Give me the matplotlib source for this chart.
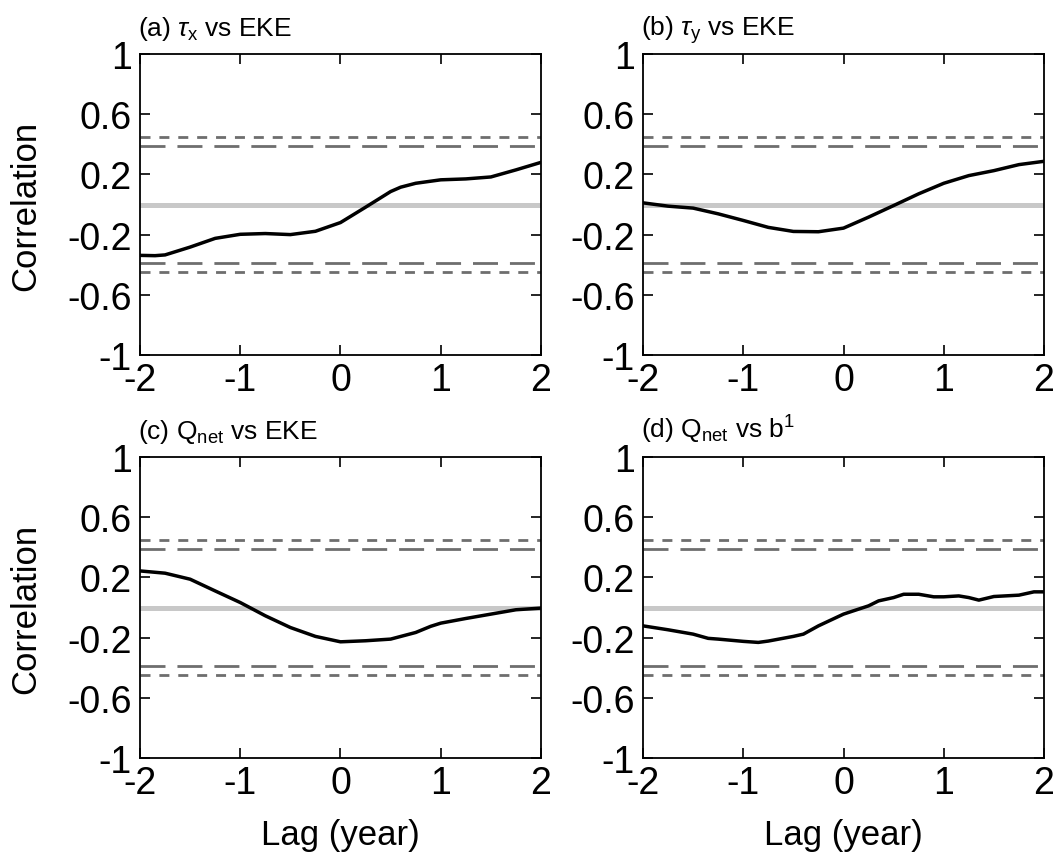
import matplotlib
matplotlib.use("Agg")
import matplotlib.pyplot as plt

plt.rcParams['font.family'] = ['Liberation Sans', 'DejaVu Sans']
plt.rcParams['mathtext.fontset'] = 'custom'
plt.rcParams['mathtext.rm'] = 'Liberation Sans'
plt.rcParams['mathtext.it'] = 'Liberation Sans:italic'

# lag-correlation curves
lag_a = [-2, -1.85, -1.75, -1.5, -1.25, -1, -0.75, -0.5, -0.25, 0, 0.25, 0.5, 0.6, 0.75, 1, 1.25, 1.5, 1.75, 2]
corr_a = [-0.338, -0.34, -0.335, -0.283, -0.225, -0.198, -0.193, -0.20, -0.178, -0.12, -0.018, 0.086, 0.115,
          0.141, 0.164, 0.17, 0.183, 0.23, 0.28]

lag_b = [-2, -1.75, -1.5, -1.25, -1, -0.75, -0.5, -0.25, 0, 0.25, 0.5, 0.75, 1, 1.25, 1.5, 1.75, 2]
corr_b = [0.011, -0.011, -0.024, -0.062, -0.106, -0.152, -0.179, -0.181, -0.157, -0.084, -0.007, 0.071,
          0.141, 0.192, 0.225, 0.265, 0.287]

lag_c = [-2, -1.75, -1.5, -1.25, -1, -0.75, -0.5, -0.25, 0, 0.25, 0.5, 0.75, 0.9, 1, 1.25, 1.5, 1.75, 2]
corr_c = [0.243, 0.228, 0.188, 0.11, 0.033, -0.055, -0.133, -0.192, -0.228, -0.221, -0.21, -0.166,
          -0.125, -0.104, -0.073, -0.044, -0.015, -0.004]

lag_d = [-2, -1.75, -1.5, -1.35, -1.25, -1, -0.85, -0.75, -0.5, -0.4, -0.25, 0, 0.25, 0.35, 0.5, 0.6,
         0.75, 0.9, 1, 1.15, 1.25, 1.35, 1.5, 1.75, 1.9, 2]
corr_d = [-0.122, -0.148, -0.177, -0.205, -0.21, -0.225, -0.232, -0.223, -0.192, -0.177, -0.122, -0.044,
          0.011, 0.044, 0.066, 0.088, 0.088, 0.071, 0.071, 0.077, 0.066, 0.049, 0.073, 0.082, 0.104, 0.104]

titles = [r'(a) $\tau_{\mathrm{x}}$ vs EKE', r'(b) $\tau_{\mathrm{y}}$ vs EKE',
          r'(c) Q$_{\mathrm{net}}$ vs EKE', r'(d) Q$_{\mathrm{net}}$ vs b$^{1}$']
sig_95 = 0.39
sig_99 = 0.45
yticks = [1, 0.6, 0.2, -0.2, -0.6, -1]
ytick_labels = ['1', '0.6', '0.2', '-0.2', '-0.6', '-1']
xticks = [-2, -1, 0, 1, 2]

fig = plt.figure(figsize=(10.54, 8.53), dpi=100)
W, H = 1054, 853
boxes = [(140, 55), (643, 55), (140, 458), (643, 458)]
aw, ah = 401, 301
data = [(lag_a, corr_a), (lag_b, corr_b), (lag_c, corr_c), (lag_d, corr_d)]

for i, ((x0, y0), (lx, cy)) in enumerate(zip(boxes, data)):
    ax = fig.add_axes([x0 / W, 1 - (y0 + ah) / H, aw / W, ah / H])
    ax.axhline(0, color='#c8c8c8', lw=3.6, zorder=1)
    for s in (1, -1):
        ax.axhline(s * sig_99, color='#6e6e6e', lw=2, dashes=(3.6, 3.2), zorder=2)
        ax.axhline(s * sig_95, color='#6e6e6e', lw=2, dashes=(9, 4.3), zorder=2)
    ax.plot(lx, cy, color='black', lw=2.5, zorder=3)
    ax.set_xlim(-2, 2)
    ax.set_ylim(-1, 1)
    ax.set_yticks(yticks)
    ax.set_yticklabels(ytick_labels)
    ax.set_xticks(xticks)
    ax.set_xticklabels([str(t) for t in xticks])
    ax.tick_params(direction='in', length=7, width=1.2, top=True, right=True,
                   labelsize=27, pad=5)
    ax.tick_params(axis='y', pad=6)
    for sp in ax.spines.values():
        sp.set_linewidth(1.3)
    ax.set_title(titles[i], loc='left', fontsize=19, pad=14, x=-0.005)
    if i % 2 == 0:
        ax.set_ylabel('Correlation', fontsize=25)
        ax.yaxis.set_label_coords(-0.243, 0.5)
    if i >= 2:
        ax.set_xlabel('Lag (year)', fontsize=25)
        ax.xaxis.set_label_coords(0.5, -0.2)

fig.savefig('out.png', dpi=100)
